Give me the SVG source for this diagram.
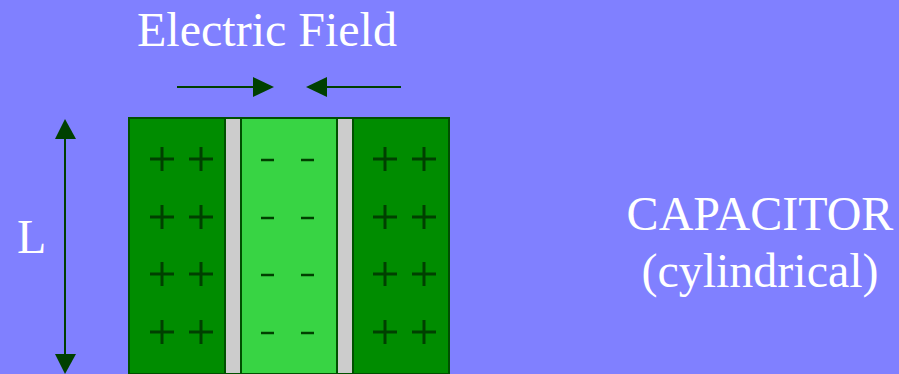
<svg xmlns="http://www.w3.org/2000/svg" width="899" height="374" viewBox="0 0 899 374">
<defs>
<style>
.t{font-family:"Liberation Serif","Times New Roman",serif;font-size:48px;fill:#ffffff}
.ln{stroke:#004000;stroke-width:2;fill:none}
.hd{fill:#004000}
.pl{stroke:#004000;stroke-width:3;fill:none}
.mn{stroke:#004000;stroke-width:2.5;fill:none}
.box{stroke:#005000;stroke-width:2}
</style>
</defs>
<rect width="899" height="374" fill="#8080ff"/>
<g id="title"><text class="t" font-family="Liberation Serif" x="267" y="46" text-anchor="middle">Electric Field</text></g>
<g id="label-L"><text class="t" font-family="Liberation Serif" x="17" y="253">L</text></g>
<g id="label-capacitor"><text class="t" font-family="Liberation Serif" x="760" y="230" text-anchor="middle">CAPACITOR</text><text class="t" font-family="Liberation Serif" x="760" y="287" text-anchor="middle">(cylindrical)</text></g>
<g id="outer-left">
<rect class="box" x="129" y="118" width="96" height="256" fill="#008c00"/>
<path class="pl" d="M150 159h24M162 147v24M189 159h24M201 147v24M150 217h24M162 205v24M189 217h24M201 205v24M150 274h24M162 262v24M189 274h24M201 262v24M150 332h24M162 320v24M189 332h24M201 320v24"/>
</g>
<g id="dielectric-left"><rect class="box" x="225" y="118" width="16" height="256" fill="#cccccc"/></g>
<g id="inner">
<rect class="box" x="241" y="118" width="96" height="256" fill="#38d444"/>
<path class="mn" d="M261 160h13M301 160h13M261 218h13M301 218h13M261 275h13M301 275h13M261 333h13M301 333h13"/>
</g>
<g id="dielectric-right"><rect class="box" x="337" y="118" width="16" height="256" fill="#cccccc"/></g>
<g id="outer-right">
<rect class="box" x="353" y="118" width="96" height="256" fill="#008c00"/>
<path class="pl" d="M373 159h24M385 147v24M412 159h24M424 147v24M373 217h24M385 205v24M412 217h24M424 205v24M373 274h24M385 262v24M412 274h24M424 262v24M373 332h24M385 320v24M412 332h24M424 320v24"/>
</g>
<g id="connectors">
<line class="ln" x1="177" y1="87" x2="256" y2="87"/>
<polygon class="hd" points="274,87 253,77 253,97"/>
<line class="ln" x1="324" y1="87" x2="401" y2="87"/>
<polygon class="hd" points="306,87 327,77 327,97"/>
<line class="ln" x1="65" y1="136" x2="65" y2="357"/>
<polygon class="hd" points="65,119 55,139 76,139"/>
<polygon class="hd" points="65,374 55,354 76,354"/>
</g>
</svg>
